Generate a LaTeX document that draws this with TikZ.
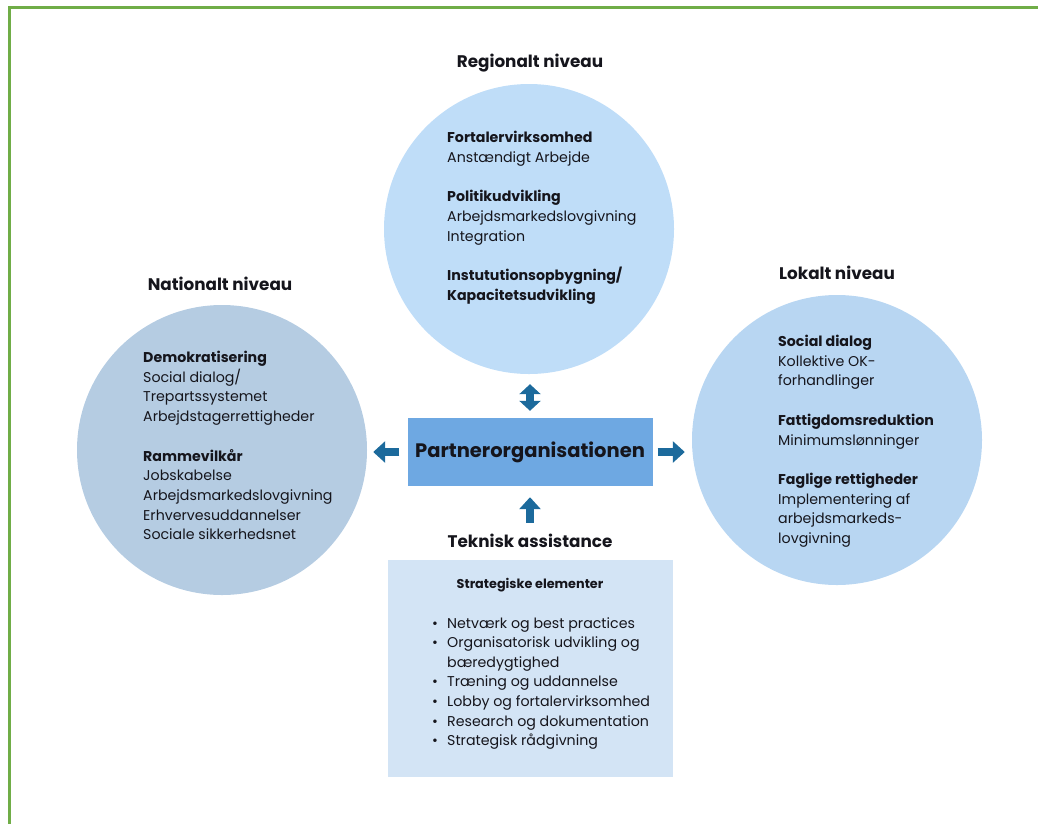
\documentclass[tikz,border=0pt]{standalone}
\usepackage{fontspec}
\setmainfont{Poppins}
\usetikzlibrary{positioning, arrows.meta}
\definecolor{frame}{HTML}{70AD47}
\definecolor{regblue}{HTML}{BFDDF8}
\definecolor{natblue}{HTML}{B5CCE2}
\definecolor{lokblue}{HTML}{B8D6F2}
\definecolor{boxblue}{HTML}{6EA8E2}
\definecolor{paleblue}{HTML}{D3E4F5}
\definecolor{arrowblue}{HTML}{1C6A9C}
\definecolor{ink}{HTML}{15151C}
\newcommand{\bulletitem}{\makebox[15pt][l]{\textbullet}}
\tikzset{level/.style={circle, minimum size=290pt, inner sep=0pt},
title/.style={font=\bfseries\fontsize{16.8}{20}\selectfont, text=ink},
info/.style={anchor=north west, inner sep=0pt, align=left, text=ink, font=\fontsize{14.2}{19.7}\selectfont},
line/.style={-{Triangle[width=21pt,length=12pt]}, line width=8pt, draw=arrowblue}
}
\begin{document}
\begin{tikzpicture}[x=1pt,y=-1pt]
\useasboundingbox (0,0) rectangle (1038,823);
\draw[frame, line width=3pt] (9,830) -- (9,7) -- (1045,7);

\node[level, fill=regblue] (Regional) at (529,229) {};
\node[level, fill=natblue] (National) at (222,450) {};
\node[level, fill=lokblue] (Local) at (837,440) {};

\node[title] (Regional Title) at (530,63) {Regionalt niveau};
\node[title] (National Title) at (220,284) {Nationalt niveau};
\node[title] (Local Title) at (837,273) {Lokalt niveau};

\node[info] (Regional Text) at (447,131) {\textbf{Fortalervirksomhed}\\Anstændigt Arbejde\\[19.7pt]\textbf{Politikudvikling}\\Arbejdsmarkedslovgivning\\Integration\\[19.7pt]\textbf{Instututionsopbygning/}\\\textbf{Kapacitetsudvikling}};
\node[info] (National Text) at (143,351) {\textbf{Demokratisering}\\Social dialog/\\Trepartssystemet\\Arbejdstagerrettigheder\\[19.7pt]\textbf{Rammevilkår}\\Jobskabelse\\Arbejdsmarkedslovgivning\\Erhvervesuddannelser\\Sociale sikkerhedsnet};
\node[info] (Local Text) at (778,335) {\textbf{Social dialog}\\Kollektive OK-\\forhandlinger\\[19.7pt]\textbf{Fattigdomsreduktion}\\Minimumslønninger\\[19.7pt]\textbf{Faglige rettigheder}\\Implementering af\\arbejdsmarkeds-\\lovgivning};

\node[fill=boxblue, minimum width=245pt, minimum height=68pt, text=ink, font=\bfseries\fontsize{19.5}{23}\selectfont] (Partner) at (530,452) {Partnerorganisationen};
\node[title, below=55pt of Partner.south, anchor=center] (Teknisk) {Teknisk assistance};
\node[fill=paleblue, minimum width=285pt, minimum height=217pt, inner sep=0pt] (Strategy) at (530.5,668.5) {};
\node[text=ink, font=\bfseries\fontsize{12.8}{15}\selectfont] (Strategy Title) at (530,585) {Strategiske elementer};
\node[info, font=\fontsize{14.2}{19.6}\selectfont] (Strategy List) at (432,617) {\bulletitem Netværk og best practices\\\bulletitem Organisatorisk udvikling og\\\hspace*{15pt}bæredygtighed\\\bulletitem Træning og uddannelse\\\bulletitem Lobby og fortalervirksomhed\\\bulletitem Research og dokumentation\\\bulletitem Strategisk rådgivning};

\draw[line, shorten <=8pt, shorten >=6pt] (Partner.west) -- (Partner.west -| National.east);
\draw[line, shorten <=5pt, shorten >=7pt] (Partner.east) -- (Partner.east -| Local.west);
\draw[line, {Triangle[width=21pt,length=10pt]}-{Triangle[width=21pt,length=10pt]}, shorten <=7pt, shorten >=10pt] (Partner.north) -- (Partner.north |- Regional.south);
\draw[line, shorten <=8pt, shorten >=11pt] (Teknisk.north) -- (Partner.south);
\end{tikzpicture}
\end{document}
